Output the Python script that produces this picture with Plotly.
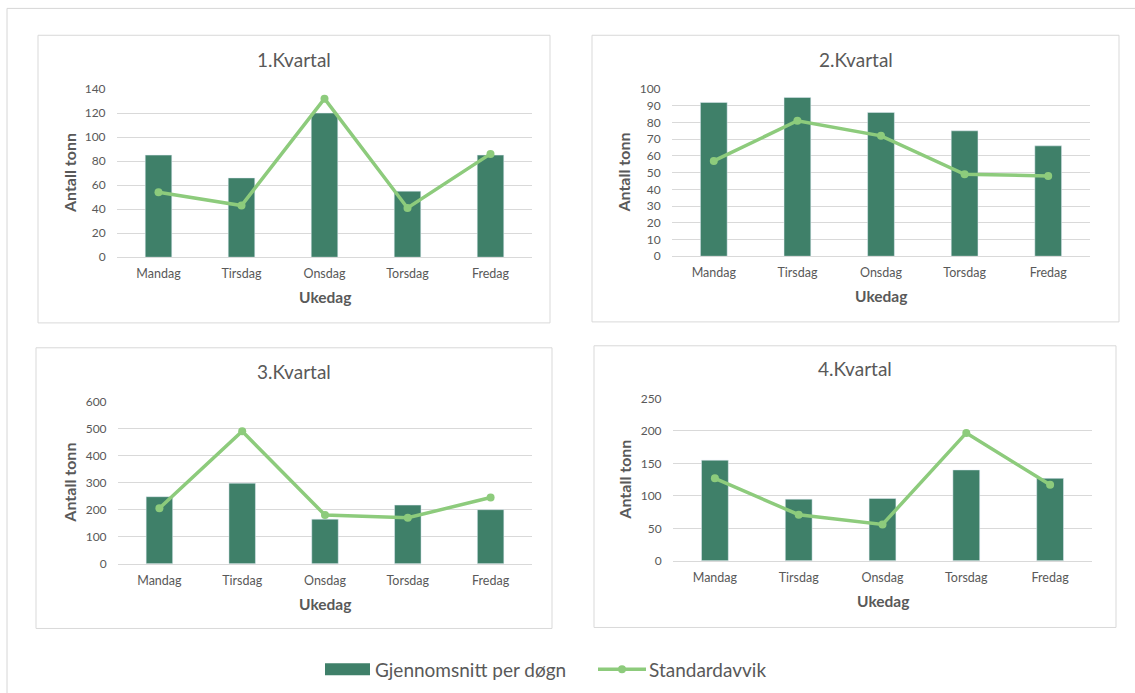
import plotly.graph_objects as go

# Weekday categories shared by all four quarters
days = ["Mandag", "Tirsdag", "Onsdag", "Torsdag", "Fredag"]

# Average tonnes per day (bars) and standard deviation (line) per quarter
q1_avg = [85, 66, 120, 55, 85]
q1_std = [54, 43, 132, 41, 86]
q2_avg = [92, 95, 86, 75, 66]
q2_std = [57, 81, 72, 49, 48]
q3_avg = [248, 298, 165, 217, 200]
q3_std = [205, 490, 180, 170, 245]
q4_avg = [155, 95, 96, 140, 127]
q4_std = [127, 71, 56, 197, 117]

titles = ["1.Kvartal", "2.Kvartal", "3.Kvartal", "4.Kvartal"]
y_max = [140, 100, 600, 250]
y_step = [20, 10, 100, 50]

W, H = 1135, 693
BAR = "#3f8069"
LINE = "#8dcb7c"
GRID = "#d9d9d9"
TXT = "#595959"
FONT = "Lato"


def px_x(v):
    return v / W


def px_y(v):
    # pixel row -> paper fraction, with a small vertical layout adjustment
    return 1 - ((v - 6.6) / 0.983) / H


# Plot areas (left, right, top, bottom) and surrounding panel boxes, in pixels
areas = [(117, 532, 88, 257), (672, 1090, 88, 256),
         (118, 532, 402, 565), (673, 1092, 399, 562)]
boxes = [(38, 550, 34, 323), (592, 1119, 34, 322),
         (36, 552, 348, 630), (594, 1116, 346, 629)]

series = [(q1_avg, q1_std), (q2_avg, q2_std), (q3_avg, q3_std), (q4_avg, q4_std)]

fig = go.Figure()
shapes = []
annotations = []

for i, ((avg, std), (l, r, t, b), (bl, br, bt, bb)) in enumerate(zip(series, areas, boxes)):
    n = "" if i == 0 else str(i + 1)
    xa, ya = "x" + n, "y" + n
    fig.add_trace(go.Bar(x=days, y=avg, xaxis=xa, yaxis=ya, marker_color=BAR,
                         width=0.32, name="Gjennomsnitt per døgn", showlegend=False))
    fig.add_trace(go.Scatter(x=days, y=std, xaxis=xa, yaxis=ya, mode="lines+markers",
                             line=dict(color=LINE, width=3.5), marker=dict(color=LINE, size=8),
                             name="Standardavvik", showlegend=False))
    fig.update_layout(**{
        "xaxis" + n: dict(domain=[px_x(l), px_x(r)], anchor=ya, showgrid=False,
                          showline=True, linecolor=GRID, linewidth=1, zeroline=False,
                          tickfont=dict(size=12.5, color=TXT, family=FONT),
                          ticks="outside", ticklen=5, tickcolor="rgba(0,0,0,0)",
                          fixedrange=True),
        "yaxis" + n: dict(domain=[px_y(b), px_y(t)], anchor=xa, range=[0, y_max[i]],
                          dtick=y_step[i], showgrid=True, gridcolor=GRID, gridwidth=1,
                          zeroline=False, showline=False,
                          tickfont=dict(size=12, color=TXT, family=FONT),
                          ticks="outside", ticklen=8, tickcolor="rgba(0,0,0,0)",
                          fixedrange=True),
    })
    # Panel frame
    shapes.append(dict(type="rect", xref="paper", yref="paper",
                       x0=px_x(bl), x1=px_x(br), y0=px_y(bb), y1=px_y(bt),
                       line=dict(color=GRID, width=1), layer="below"))
    # Panel title
    annotations.append(dict(text=titles[i], xref="paper", yref="paper",
                            x=px_x((bl + br) / 2), y=px_y(t - 30), showarrow=False,
                            font=dict(size=19, color=TXT, family=FONT),
                            xanchor="center", yanchor="middle"))
    # Axis titles
    annotations.append(dict(text="<b>Ukedag</b>", xref="paper", yref="paper",
                            x=px_x((l + r) / 2), y=px_y(b + 40), showarrow=False,
                            font=dict(size=15.5, color=TXT, family=FONT),
                            xanchor="center", yanchor="middle"))
    annotations.append(dict(text="<b>Antall tonn</b>", xref="paper", yref="paper",
                            x=px_x(l - 48), y=px_y((t + b) / 2), showarrow=False,
                            textangle=-90, font=dict(size=16, color=TXT, family=FONT),
                            xanchor="center", yanchor="middle"))

# Outer frame
shapes.append(dict(type="rect", xref="paper", yref="paper",
                   x0=px_x(7), x1=px_x(1140), y0=px_y(700), y1=px_y(7),
                   line=dict(color="#d6d6d6", width=1), layer="below"))

# Legend drawn below the panels
ly = 671
shapes.append(dict(type="rect", xref="paper", yref="paper",
                   x0=px_x(325), x1=px_x(370), y0=px_y(ly + 6), y1=px_y(ly - 6),
                   fillcolor=BAR, line=dict(width=0)))
shapes.append(dict(type="line", xref="paper", yref="paper",
                   x0=px_x(598), x1=px_x(646), y0=px_y(ly), y1=px_y(ly),
                   line=dict(color=LINE, width=3.5)))
shapes.append(dict(type="circle", xref="paper", yref="paper",
                   x0=px_x(618), x1=px_x(626), y0=px_y(ly + 4), y1=px_y(ly - 4),
                   fillcolor=LINE, line=dict(width=0)))
annotations.append(dict(text="Gjennomsnitt per døgn", xref="paper", yref="paper",
                        x=px_x(373), y=px_y(ly), showarrow=False, xanchor="left",
                        yanchor="middle", font=dict(size=19, color=TXT, family=FONT)))
annotations.append(dict(text="Standardavvik", xref="paper", yref="paper",
                        x=px_x(647), y=px_y(ly), showarrow=False, xanchor="left",
                        yanchor="middle", font=dict(size=19, color=TXT, family=FONT)))

fig.update_layout(width=W, height=H, margin=dict(l=0, r=0, t=0, b=0),
                  paper_bgcolor="white", plot_bgcolor="white",
                  shapes=shapes, annotations=annotations, showlegend=False,
                  font=dict(family=FONT, color=TXT))

fig.write_html("out.html", config={"displayModeBar": False})
